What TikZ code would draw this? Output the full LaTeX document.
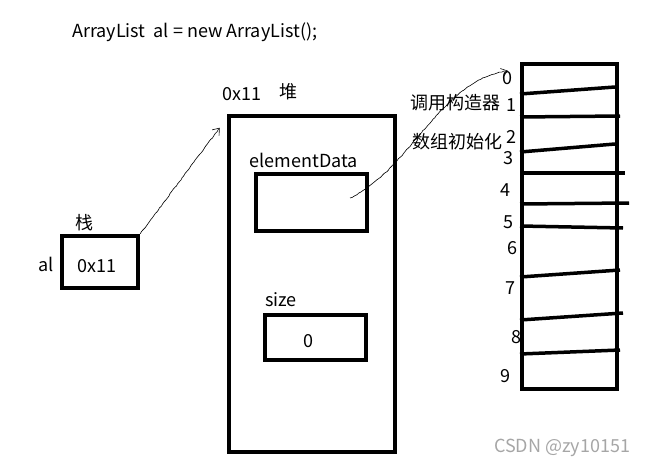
\documentclass[tikz,border=0pt]{standalone}
\usepackage{fontspec}
\setmainfont{Noto Sans CJK SC}
\usetikzlibrary{arrows.meta,decorations.pathmorphing}
\begin{document}
\begin{tikzpicture}[x=1pt,y=-1pt,
  box/.style={draw,line width=4.5pt,inner sep=0pt},
  divider/.style={line width=3.5pt},
  wire/.style={line width=0.6pt,decorate,decoration={random steps,segment length=2.5pt,amplitude=0.4pt}},
  tip/.style={-{Straight Barb[length=6pt,width=9pt]}},
  txt/.style={font=\fontsize{18}{20}\selectfont,inner sep=0pt}]
  \useasboundingbox (0,0) rectangle (652,468);
  \node[txt,anchor=west] (code) at (72,32) {ArrayList\ \ al = new ArrayList();};
  % stack
  \node[box,minimum width=76pt,minimum height=52pt] (stack) at (100,262) {};
  \node[txt] (stacklbl) at (84,223) {栈};
  \node[txt] (al) at (46,264) {al};
  \node[txt] (ref) at (97,266) {0x11};
  % heap
  \node[box,minimum width=166pt,minimum height=336pt] (heap) at (312,284) {};
  \node[txt] (addr) at (242,94) {0x11};
  \node[txt] (heaplbl) at (288,92) {堆};
  \node[txt] (datalbl) at (304,160) {elementData};
  \node[box,minimum width=111pt,minimum height=57pt] (data) at (311.5,202.5) {};
  \node[txt] (sizelbl) at (281,300) {size};
  \node[box,minimum width=101pt,minimum height=45pt] (size) at (315.5,337.5) {};
  \node[txt] (sizeval) at (308,341) {0};
  % array
  \node[box,minimum width=95pt,minimum height=325pt] (arr) at (569.5,226.5) {};
  \foreach \a/\b/\c in {94/615/87, 117/620/116, 152/615/144, 173/625/173, 204/629/203,
                        226/623/228, 277/620/270, 320/623/313, 354/620/350}
    \draw[divider] (520,\a) -- (\b,\c);
  \foreach \n/\x/\y in {0/507/78, 1/511/105, 2/511/137, 3/508/158, 4/505/190,
                        5/508/222, 6/512/248, 7/510/288, 8/516/337, 9/505/376}
    \node[txt] (idx\n) at (\x,\y) {\n};
  \node[txt] (ctor) at (455,103) {调用构造器};
  \node[txt] (init) at (457,142) {数组初始化};
  % references
  \draw[wire,tip] (stack.north east) -- ([xshift=-7pt,yshift=-14pt]heap.north west);
  \coordinate (src) at (350,198);
  \draw[wire,tip] (src) .. controls (410,170) and (440,80) .. ([xshift=-12pt,yshift=-9pt]arr.north west);
  \node[font=\fontsize{18}{20}\selectfont,text=gray!70] (mark) at (562,448) {CSDN @zy10151};
\end{tikzpicture}
\end{document}
